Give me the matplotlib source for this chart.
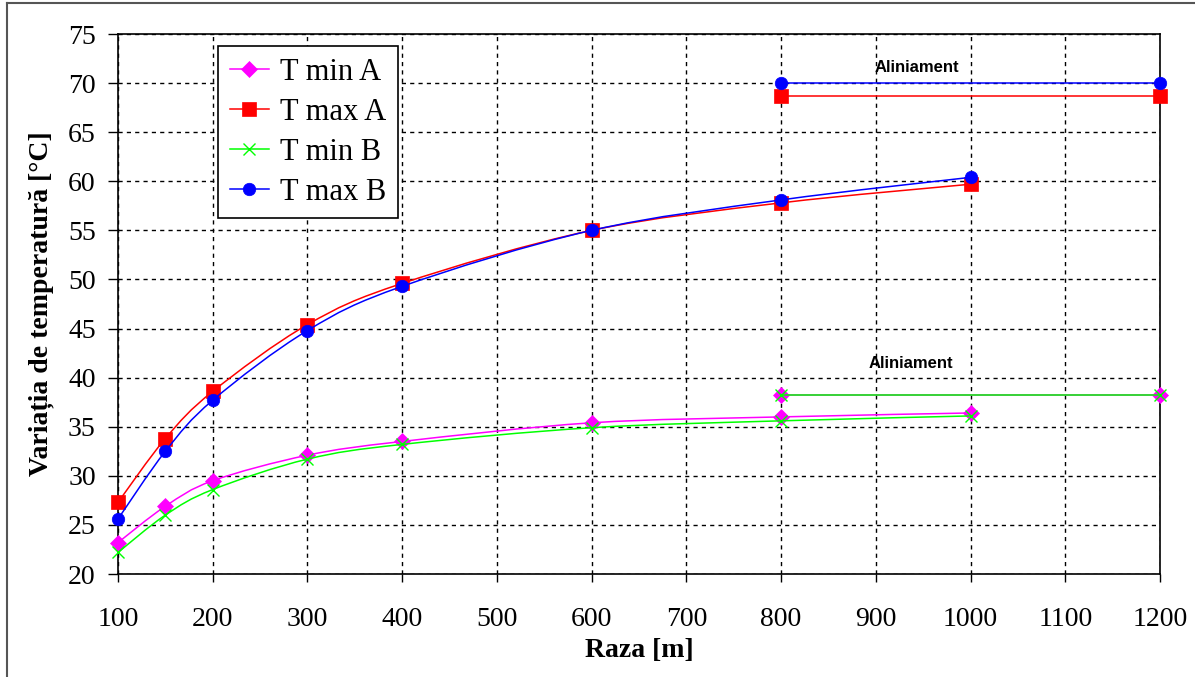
import matplotlib
matplotlib.use('Agg')
import matplotlib.pyplot as plt
from matplotlib.path import Path
from matplotlib.patches import PathPatch
from matplotlib.lines import Line2D

# data
raza = [100, 150, 200, 300, 400, 600, 800, 1000]
t_min_a = [23.2, 26.9, 29.5, 32.1, 33.5, 35.4, 36.0, 36.4]
t_max_a = [27.3, 33.8, 38.6, 45.4, 49.6, 55.0, 57.8, 59.7]
t_min_b = [22.2, 26.0, 28.6, 31.7, 33.2, 34.9, 35.6, 36.1]
t_max_b = [25.6, 32.5, 37.7, 44.8, 49.3, 55.0, 58.1, 60.4]

# "Aliniament" (straight road) values
raza_alin = [800, 1200]
t_min_a_alin = [38.2, 38.2]
t_max_a_alin = [68.7, 68.7]
t_min_b_alin = [38.2, 38.2]
t_max_b_alin = [70.0, 70.0]

x_ticks = list(range(100, 1201, 100))
y_ticks = list(range(20, 76, 5))

serif = 'Liberation Serif'


def smooth_path(xs, ys):
    # Excel-like smoothed line: Catmull-Rom converted to cubic Bezier
    pts = list(zip(xs, ys))
    verts = [pts[0]]
    codes = [Path.MOVETO]
    n = len(pts)
    for i in range(n - 1):
        p0 = pts[i - 1] if i > 0 else pts[i]
        p1 = pts[i]
        p2 = pts[i + 1]
        p3 = pts[i + 2] if i + 2 < n else pts[i + 1]
        c1 = (p1[0] + (p2[0] - p0[0]) / 6, p1[1] + (p2[1] - p0[1]) / 6)
        c2 = (p2[0] - (p3[0] - p1[0]) / 6, p2[1] - (p3[1] - p1[1]) / 6)
        verts += [c1, c2, p2]
        codes += [Path.CURVE4] * 3
    return Path(verts, codes)


fig = plt.figure(figsize=(11.95, 6.77), dpi=100)
ax = fig.add_axes([118 / 1195, 103 / 677, 1042 / 1195, 540 / 677])

series = [
    (t_min_a, t_min_a_alin, '#FF00FF', 'D', 8.5, 'T min A'),
    (t_max_a, t_max_a_alin, '#FF0000', 's', 9.5, 'T max A'),
    (t_min_b, t_min_b_alin, '#00FF00', 'x', 9, 'T min B'),
    (t_max_b, t_max_b_alin, '#0000FF', 'o', 9, 'T max B'),
]

handles = []
for k, (vals, alin, col, mk, ms, lab) in enumerate(series):
    z = 3 + k
    ax.add_patch(PathPatch(smooth_path(raza, vals), fill=False,
                           edgecolor=col, lw=1.1, zorder=z))
    ax.plot(raza_alin, alin, color=col, lw=1.1, zorder=z)
    mew = 1.0 if mk == 'x' else 0.5
    ax.plot(raza, vals, linestyle='none', marker=mk, ms=ms, color=col,
            mec=col, mew=mew, zorder=z + 0.5, clip_on=False)
    ax.plot(raza_alin, alin, linestyle='none', marker=mk, ms=ms, color=col,
            mec=col, mew=mew, zorder=z + 0.5, clip_on=False)
    handles.append(Line2D([0], [0], color=col, lw=1.1, marker=mk, ms=ms,
                          mec=col, mew=mew, label=lab))

ax.set_xlim(100, 1200)
ax.set_ylim(20, 75)
ax.set_xticks(x_ticks)
ax.set_yticks(y_ticks)
ax.grid(True, color='black', linestyle=(0, (3, 3)), lw=1, zorder=1)
for s in ax.spines.values():
    s.set_linewidth(1.2)
    s.set_color('black')
ax.tick_params(axis='x', direction='out', length=6, width=1, pad=18,
               labelsize=20)
ax.tick_params(axis='y', direction='out', length=7, width=1, pad=9,
               labelsize=20)
for lbl in ax.get_xticklabels() + ax.get_yticklabels():
    lbl.set_fontfamily(serif)

ax.set_xlabel('Raza [m]', fontsize=20, fontweight='bold', family=serif,
              labelpad=4)
ax.set_ylabel('Variația de temperatură [°C]', fontsize=20,
              fontweight='bold', family=serif, labelpad=10)

ax.text(943, 71.6, 'Aliniament', fontsize=12, fontweight='bold',
        family='Liberation Sans', ha='center', va='center')
ax.text(937, 41.4, 'Aliniament', fontsize=12, fontweight='bold',
        family='Liberation Sans', ha='center', va='center')

leg = ax.legend(handles=handles, loc='upper left',
                bbox_to_anchor=(100 / 1042, 1 - 12 / 540),
                borderaxespad=0, prop={'family': serif, 'size': 22},
                handlelength=1.3, handletextpad=0.35, labelspacing=0.36,
                borderpad=0.38, fancybox=False, framealpha=1,
                edgecolor='black')
leg.get_frame().set_linewidth(1.2)
leg.set_zorder(10)

# window border of the original screenshot
fig.add_artist(Line2D([7 / 1195, 7 / 1195], [0, 674 / 677], color='#555555',
                      lw=1.5))
fig.add_artist(Line2D([7 / 1195, 1], [674 / 677, 674 / 677], color='#555555',
                      lw=1.5))

fig.savefig('out.png', dpi=100)
